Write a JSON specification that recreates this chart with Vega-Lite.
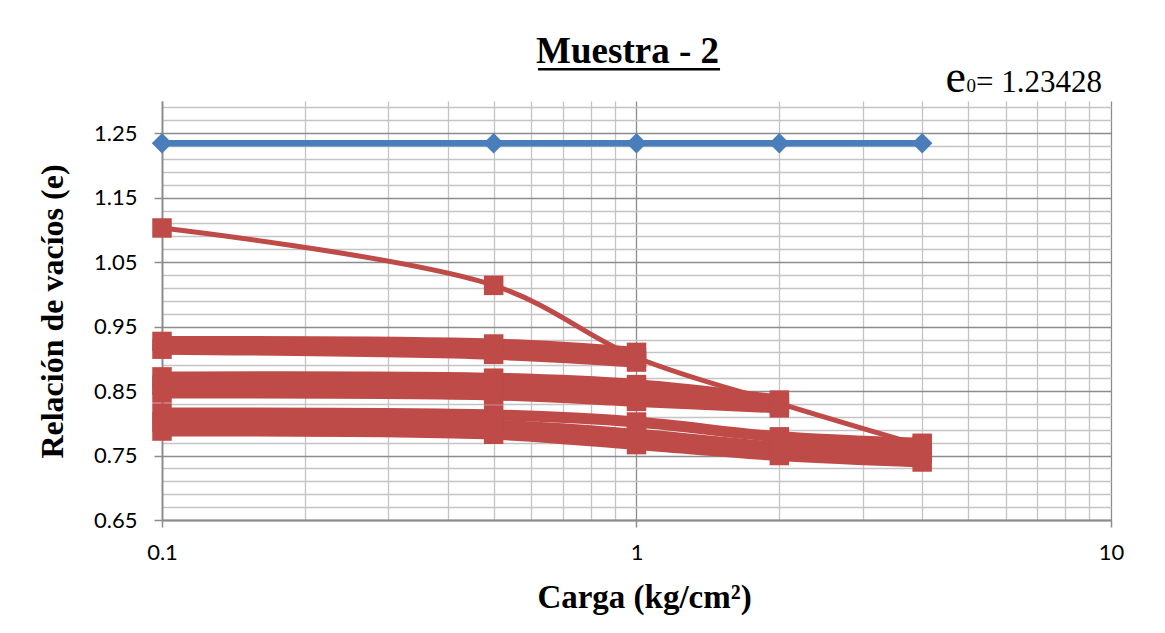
{
  "$schema": "https://vega.github.io/schema/vega-lite/v6.json",
  "width": 949,
  "height": 419,
  "autosize": {"type": "none"},
  "padding": {"left": 162, "top": 101, "right": 54, "bottom": 113},
  "background": "white",
  "config": {"view": {"stroke": null}},
  "data": {"values": [
    {"serie": "e0", "carga": 0.1, "e": 1.23428},
    {"serie": "e0", "carga": 0.5, "e": 1.23428},
    {"serie": "e0", "carga": 1, "e": 1.23428},
    {"serie": "e0", "carga": 2, "e": 1.23428},
    {"serie": "e0", "carga": 4, "e": 1.23428},
    {"serie": "S1", "carga": 0.1, "e": 1.103},
    {"serie": "S1", "carga": 0.5, "e": 1.014},
    {"serie": "S1", "carga": 1, "e": 0.902},
    {"serie": "S1", "carga": 2, "e": 0.831},
    {"serie": "S1", "carga": 4, "e": 0.765},
    {"serie": "B1a", "carga": 0.1, "e": 0.927},
    {"serie": "B1a", "carga": 0.5, "e": 0.923},
    {"serie": "B1a", "carga": 1, "e": 0.910},
    {"serie": "B1b", "carga": 0.1, "e": 0.915},
    {"serie": "B1b", "carga": 0.5, "e": 0.907},
    {"serie": "B1b", "carga": 1, "e": 0.895},
    {"serie": "B2a", "carga": 0.1, "e": 0.872},
    {"serie": "B2a", "carga": 0.5, "e": 0.870},
    {"serie": "B2a", "carga": 1, "e": 0.860},
    {"serie": "B2a", "carga": 2, "e": 0.836},
    {"serie": "B2b", "carga": 0.1, "e": 0.859},
    {"serie": "B2b", "carga": 0.5, "e": 0.858},
    {"serie": "B2b", "carga": 1, "e": 0.847},
    {"serie": "B2b", "carga": 2, "e": 0.830},
    {"serie": "B2c", "carga": 0.1, "e": 0.847},
    {"serie": "B2c", "carga": 0.5, "e": 0.844},
    {"serie": "B2c", "carga": 1, "e": 0.834},
    {"serie": "B2c", "carga": 2, "e": 0.824},
    {"serie": "B3a", "carga": 0.1, "e": 0.816},
    {"serie": "B3a", "carga": 0.5, "e": 0.813},
    {"serie": "B3a", "carga": 1, "e": 0.802},
    {"serie": "B3a", "carga": 2, "e": 0.779},
    {"serie": "B3a", "carga": 4, "e": 0.769},
    {"serie": "B3b", "carga": 0.1, "e": 0.802},
    {"serie": "B3b", "carga": 0.5, "e": 0.797},
    {"serie": "B3b", "carga": 1, "e": 0.783},
    {"serie": "B3b", "carga": 2, "e": 0.763},
    {"serie": "B3b", "carga": 4, "e": 0.754},
    {"serie": "B3c", "carga": 0.1, "e": 0.788},
    {"serie": "B3c", "carga": 0.5, "e": 0.783},
    {"serie": "B3c", "carga": 1, "e": 0.767},
    {"serie": "B3c", "carga": 2, "e": 0.750},
    {"serie": "B3c", "carga": 4, "e": 0.740}
  ]},
  "layer": [
    {
      "transform": [{"filter": "datum.serie == 'e0'"}],
      "mark": {"type": "line", "opacity": 0},
      "encoding": {
        "x": {"field": "carga", "type": "quantitative",
          "scale": {"type": "log", "domain": [0.1, 10], "nice": false},
          "axis": {"orient": "bottom", "values": [0.2,0.3,0.4,0.5,0.6,0.7,0.8,0.9,2,3,4,5,6,7,8,9], "grid": true, "gridColor": "#c4c4c4", "gridWidth": 1.3, "labels": false, "ticks": false, "domain": false, "title": null}},
        "y": {"field": "e", "type": "quantitative",
          "scale": {"domain": [0.65, 1.3], "nice": false, "zero": false},
          "axis": {"orient": "left", "values": [0.67,0.69,0.71,0.73,0.77,0.79,0.81,0.83,0.87,0.89,0.91,0.93,0.97,0.99,1.01,1.03,1.07,1.09,1.11,1.13,1.17,1.19,1.21,1.23,1.27,1.29], "grid": true, "gridColor": "#c4c4c4", "gridWidth": 1.3, "labels": false, "ticks": false, "domain": false, "title": null}}
      }
    },
    {
      "transform": [{"filter": "datum.serie == 'e0'"}],
      "mark": {"type": "line", "color": "#4A7EBB", "strokeWidth": 6.5,
        "point": {"shape": "diamond", "size": 420, "filled": true, "color": "#4A7EBB", "opacity": 1}},
      "encoding": {
        "x": {"field": "carga", "type": "quantitative",
          "axis": {"orient": "bottom", "values": [0.1, 1, 10], "format": "~g", "grid": true, "gridColor": "#8c8c8c", "gridWidth": 1.3,
            "domainColor": "#8c8c8c", "domainWidth": 1.8, "tickColor": "#8c8c8c", "tickSize": 7, "tickWidth": 1.5,
            "labelFont": "Lato", "labelFontSize": 22, "labelColor": "black", "labelPadding": 15, "labelFlush": false,
            "title": "Carga (kg/cm²)", "titleFont": "Liberation Serif", "titleFontSize": 33, "titleFontWeight": "bold", "titleColor": "black",
            "titleX": 482, "titleY": 87, "titleBaseline": "alphabetic", "titleAlign": "center"}},
        "y": {"field": "e", "type": "quantitative",
          "axis": {"orient": "left", "values": [0.65,0.75,0.85,0.95,1.05,1.15,1.25], "format": ".2f", "grid": true, "gridColor": "#8c8c8c", "gridWidth": 1.3,
            "domainColor": "#8c8c8c", "domainWidth": 1.8, "tickColor": "#8c8c8c", "tickSize": 8, "tickWidth": 1.5,
            "labelFont": "Lato", "labelFontSize": 22, "labelColor": "black", "labelPadding": 17,
            "title": "Relación de vacíos (e)", "titleFont": "Liberation Serif", "titleFontSize": 32, "titleFontWeight": "bold", "titleColor": "black",
            "titleX": -100, "titleY": 210, "titleAngle": 270, "titleBaseline": "alphabetic", "titleAlign": "center"}}
      }
    },
    {
      "transform": [{"filter": "datum.serie == 'S1'"}],
      "mark": {"type": "line", "color": "#BE4B48", "strokeWidth": 5, "interpolate": "catmull-rom",
        "point": {"shape": "square", "size": 380, "filled": true, "color": "#BE4B48", "opacity": 1}},
      "encoding": {
        "x": {"field": "carga", "type": "quantitative", "axis": null},
        "y": {"field": "e", "type": "quantitative", "axis": null}
      }
    },
    {
      "transform": [{"filter": "datum.serie != 'e0' && datum.serie != 'S1'"}],
      "mark": {"type": "line", "color": "#BE4B48", "strokeWidth": 11, "interpolate": "catmull-rom",
        "point": {"shape": "square", "size": 380, "filled": true, "color": "#BE4B48", "opacity": 1}},
      "encoding": {
        "x": {"field": "carga", "type": "quantitative", "axis": null},
        "y": {"field": "e", "type": "quantitative", "axis": null},
        "detail": {"field": "serie"}
      }
    },
    {
      "data": {"values": [{"etiqueta": "titulo"}]},
      "mark": {"type": "text", "text": "Muestra - 2", "font": "Liberation Serif", "fontSize": 37, "fontWeight": "bold", "color": "black", "align": "center", "baseline": "alphabetic", "dx": -9, "dy": -38},
      "encoding": {
        "x": {"datum": 1, "type": "quantitative", "axis": null},
        "y": {"datum": 1.3, "type": "quantitative", "axis": null}
      }
    },
    {
      "data": {"values": [{"etiqueta": "subrayado"}]},
      "mark": {"type": "rule", "color": "black", "strokeWidth": 2.6, "yOffset": -31.7},
      "encoding": {
        "x": {"datum": 0.62, "type": "quantitative", "axis": null},
        "x2": {"datum": 1.5},
        "y": {"datum": 1.3, "type": "quantitative", "axis": null}
      }
    },
    {
      "data": {"values": [{"etiqueta": "e0"}]},
      "mark": {"type": "text", "text": "e", "font": "Liberation Serif", "fontSize": 46, "color": "black", "align": "right", "baseline": "alphabetic", "dx": -145, "dy": -9},
      "encoding": {
        "x": {"datum": 10, "type": "quantitative", "axis": null},
        "y": {"datum": 1.3, "type": "quantitative", "axis": null}
      }
    },
    {
      "data": {"values": [{"etiqueta": "e0"}]},
      "mark": {"type": "text", "text": "0", "font": "Liberation Serif", "fontSize": 19, "color": "black", "align": "right", "baseline": "alphabetic", "dx": -135, "dy": -9},
      "encoding": {
        "x": {"datum": 10, "type": "quantitative", "axis": null},
        "y": {"datum": 1.3, "type": "quantitative", "axis": null}
      }
    },
    {
      "data": {"values": [{"etiqueta": "e0"}]},
      "mark": {"type": "text", "text": "= 1.23428", "font": "Liberation Serif", "fontSize": 31, "color": "black", "align": "right", "baseline": "alphabetic", "dx": -9, "dy": -9},
      "encoding": {
        "x": {"datum": 10, "type": "quantitative", "axis": null},
        "y": {"datum": 1.3, "type": "quantitative", "axis": null}
      }
    }
  ],
  "resolve": {"axis": {"x": "independent", "y": "independent"}}
}
